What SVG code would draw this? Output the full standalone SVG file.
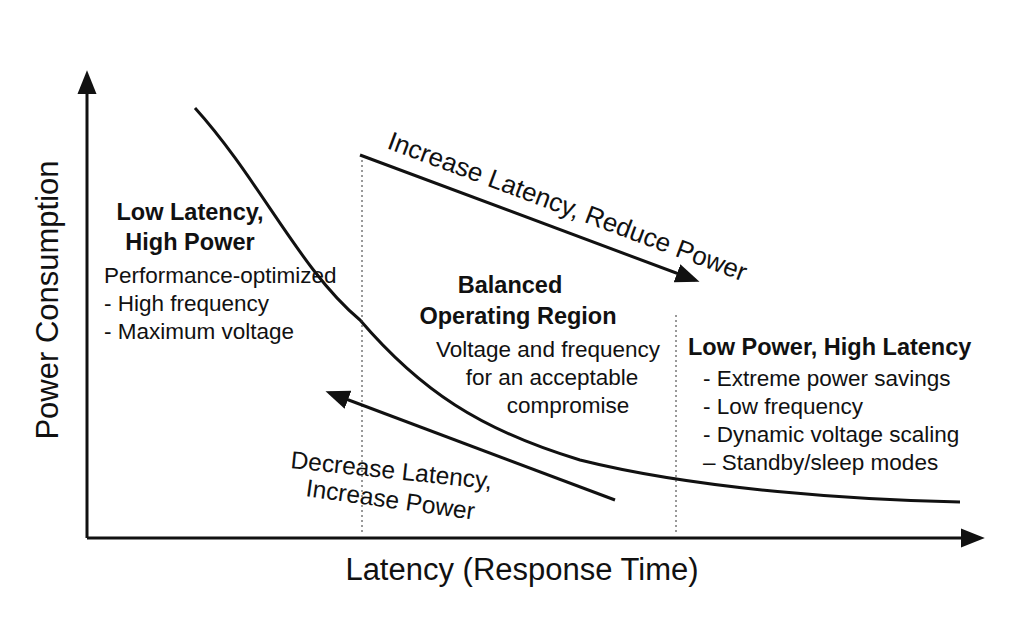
<svg xmlns="http://www.w3.org/2000/svg" width="1024" height="635" viewBox="0 0 1024 635">
<style>
text{font-family:"Liberation Sans",Arial,sans-serif;fill:#111}
.b{font-weight:bold;font-size:23.5px}
.t{font-size:22.5px}
.ax{font-size:31px}
.l{stroke:#111;stroke-width:3;fill:none}
.d{stroke:#333;stroke-width:1;stroke-dasharray:2,3}
</style>
<defs>
<marker id="ah2" viewBox="0 0 10 10" refX="8" refY="5" markerWidth="8" markerHeight="8" orient="auto">
<path d="M0,1L10,5L0,9z" fill="#111"/>
</marker>
</defs>
<rect width="1024" height="635" fill="#fff"/>
<g id="connectors">
<path class="l" d="M87,538V75" marker-end="url(#ah2)"/>
<path class="l" d="M87,538H980" marker-end="url(#ah2)"/>
<path class="l" d="M195,108C260,180 300,270 360,320C420,390 480,430 580,460C700,490 860,500 960,502"/>
<path class="d" d="M362,155V535M676,315V535"/>
<path class="l" d="M360,155L695,280" marker-end="url(#ah2)"/>
<path class="l" d="M615,500L330,393" marker-end="url(#ah2)"/>
</g>
<g id="left">
<text class="b" x="190" y="220" text-anchor="middle">Low Latency,</text>
<text class="b" x="190" y="250" text-anchor="middle">High Power</text>
<text class="t" x="104" y="283">Performance-optimized</text>
<text class="t" x="104" y="311">- High frequency</text>
<text class="t" x="104" y="339">- Maximum voltage</text>
</g>
<g id="mid">
<text class="b" x="510" y="293" text-anchor="middle">Balanced</text>
<text class="b" x="518" y="324" text-anchor="middle">Operating Region</text>
<text class="t" x="548" y="357" text-anchor="middle">Voltage and frequency</text>
<text class="t" x="552" y="385" text-anchor="middle">for an acceptable</text>
<text class="t" x="568" y="413" text-anchor="middle">compromise</text>
</g>
<g id="right">
<text class="b" x="688" y="355">Low Power, High Latency</text>
<text class="t" x="703" y="386">- Extreme power savings</text>
<text class="t" x="703" y="414">- Low frequency</text>
<text class="t" x="703" y="442">- Dynamic voltage scaling</text>
<text class="t" x="703" y="470">– Standby/sleep modes</text>
</g>
<g id="arrowlabels">
<text style="font-size:26px" transform="translate(386,148) rotate(20.5)">Increase Latency, Reduce Power</text>
<text style="font-size:24.5px" transform="translate(290,468) rotate(6)">Decrease Latency,</text>
<text style="font-size:24.5px" transform="translate(305,496) rotate(8)">Increase Power</text>
</g>
<g id="axes">
<text class="ax" transform="translate(58,300) rotate(-90)" text-anchor="middle">Power Consumption</text>
<text class="ax" x="522" y="580" text-anchor="middle">Latency (Response Time)</text>
</g>
</svg>
